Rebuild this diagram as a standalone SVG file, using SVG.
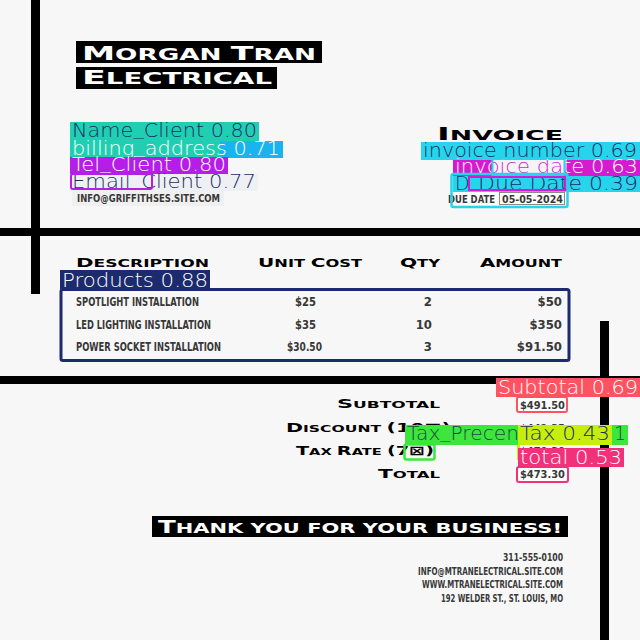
<svg xmlns="http://www.w3.org/2000/svg" width="640" height="640" viewBox="0 0 640 640">
<defs>
<style>
.wide{font-family:"DejaVu Sans","Liberation Sans",sans-serif;font-weight:bold;}
.cond{font-family:"DejaVu Sans Condensed","DejaVu Sans","Liberation Sans",sans-serif;font-weight:bold;fill:#383838;}
.lbl{font-family:"DejaVu Sans","Liberation Sans",sans-serif;font-weight:200;font-size:19px;}
.navy{fill:#1b2d63;}
.white{fill:#ffffff;}
</style>
<clipPath id="dateIn"><rect x="493" y="160" width="71" height="15"/></clipPath>
</defs>
<rect x="0" y="0" width="640" height="640" fill="#f7f7f7"/>

<g id="frame">
<rect x="31" y="0" width="9" height="294" fill="#000"/>
<rect x="0" y="228" width="640" height="8" fill="#000"/>
<rect x="0" y="376" width="640" height="8" fill="#000"/>
<rect x="600" y="321" width="9" height="319" fill="#000"/>
</g>

<g id="company">
<rect x="76" y="41" width="246" height="22" fill="#000"/>
<rect x="76" y="67" width="201" height="22" fill="#000"/>
<text class="wide" fill="#fff" x="82" y="59.5" textLength="234" lengthAdjust="spacingAndGlyphs"><tspan font-size="19">M</tspan><tspan font-size="15">ORGAN </tspan><tspan font-size="19">T</tspan><tspan font-size="15">RAN</tspan></text>
<text class="wide" fill="#fff" x="82" y="83.5" textLength="190" lengthAdjust="spacingAndGlyphs"><tspan font-size="19">E</tspan><tspan font-size="15">LECTRICAL</tspan></text>
</g>

<g id="client">
<rect x="70" y="122" width="189" height="19" fill="#20cfb2"/>
<rect x="70" y="141" width="150" height="16" fill="#20cfb2"/>
<rect x="220" y="141" width="63" height="17" fill="#19b3f0"/>
<text class="lbl navy" x="72" y="137" textLength="185" lengthAdjust="spacingAndGlyphs">Name<tspan dy="-3">_</tspan><tspan dy="3">Client 0.80</tspan></text>
<text class="lbl white" x="72" y="155" textLength="208" lengthAdjust="spacingAndGlyphs">billing<tspan dy="-3">_</tspan><tspan dy="3">address 0.71</tspan></text>
<rect x="70" y="157" width="158" height="17" fill="#b51ee8"/>
<rect x="70" y="174" width="188" height="17" fill="#eef0f3"/>
<text class="lbl white" x="72" y="171" textLength="154" lengthAdjust="spacingAndGlyphs">Tel<tspan dy="-3">_</tspan><tspan dy="3">Client 0.80</tspan></text>
<text class="lbl navy" x="72" y="188" textLength="184" lengthAdjust="spacingAndGlyphs">Email<tspan dy="-3">_</tspan><tspan dy="3">Client 0.77</tspan></text>
<rect x="71" y="174" width="81" height="15" rx="2" fill="none" stroke="#b51ee8" stroke-width="2"/>
<rect x="72" y="191" width="152" height="15" fill="#f0f0f1"/>
<text class="cond" font-size="11" x="77" y="202" textLength="143" lengthAdjust="spacingAndGlyphs">INFO@GRIFFITHSES.SITE.COM</text>
</g>

<g id="invoice">
<text class="wide" fill="#000" x="437" y="140" textLength="126" lengthAdjust="spacingAndGlyphs"><tspan font-size="18">I</tspan><tspan font-size="14">NVOICE</tspan></text>
<rect x="421" y="142" width="219" height="18" fill="#27d4ec"/>
<text class="lbl navy" x="423" y="157" textLength="214" lengthAdjust="spacingAndGlyphs">invoice number 0.69</text>
<rect x="453" y="160" width="187" height="16" fill="#d51bcf"/>
<rect x="493" y="160" width="71" height="15" fill="#f4f4f6"/>
<text class="lbl white" x="455" y="173" textLength="183" lengthAdjust="spacingAndGlyphs">invoice date 0.63</text>
<text class="lbl" fill="#d51bcf" x="455" y="173" textLength="183" lengthAdjust="spacingAndGlyphs" clip-path="url(#dateIn)">invoice date 0.63</text>
<rect x="492.5" y="158" width="72" height="17" fill="none" stroke="#27d4ec" stroke-width="2"/>
<rect x="453" y="176" width="187" height="16" fill="#27d4ec"/>
<text class="lbl navy" x="455" y="190">D</text>
<text class="lbl navy" x="478" y="190" textLength="160" lengthAdjust="spacingAndGlyphs">Due Date 0.39</text>
<rect x="469" y="177" width="96" height="13" fill="none" stroke="#d51bcf" stroke-width="2"/>
<rect x="453" y="192" width="44" height="13" fill="#ffffff"/>
<rect x="499.5" y="192.5" width="65" height="12" fill="#ffffff" stroke="#8a8a8a" stroke-width="1"/>
<text class="cond" font-size="11" x="448" y="203" textLength="47" lengthAdjust="spacingAndGlyphs">DUE DATE</text>
<text class="cond" font-size="11" x="502" y="203" textLength="61" lengthAdjust="spacingAndGlyphs">05-05-2024</text>
<rect x="451.5" y="174" width="116" height="33" rx="2" fill="none" stroke="#27d4ec" stroke-width="2.5"/>
</g>

<g id="table-header">
<text class="wide" fill="#000" x="76" y="267" textLength="133" lengthAdjust="spacingAndGlyphs"><tspan font-size="13">D</tspan><tspan font-size="10.5">ESCRIPTION</tspan></text>
<text class="wide" fill="#000" x="258" y="267" textLength="104" lengthAdjust="spacingAndGlyphs"><tspan font-size="13">U</tspan><tspan font-size="10.5">NIT </tspan><tspan font-size="13">C</tspan><tspan font-size="10.5">OST</tspan></text>
<text class="wide" fill="#000" x="400" y="267" textLength="40" lengthAdjust="spacingAndGlyphs"><tspan font-size="13">Q</tspan><tspan font-size="10.5">TY</tspan></text>
<text class="wide" fill="#000" x="480" y="267" textLength="82" lengthAdjust="spacingAndGlyphs"><tspan font-size="13">A</tspan><tspan font-size="10.5">MOUNT</tspan></text>
</g>

<g id="products">
<rect x="60" y="270" width="150" height="19" fill="#1c2a6e"/>
<text class="lbl white" x="62" y="287" textLength="146" lengthAdjust="spacingAndGlyphs">Products 0.88</text>
<rect x="61" y="289.5" width="508" height="71" rx="2" fill="none" stroke="#1c2a6e" stroke-width="3"/>
<text class="cond" font-size="13" x="76" y="306" textLength="123" lengthAdjust="spacingAndGlyphs">SPOTLIGHT INSTALLATION</text>
<text class="cond" font-size="13" x="295" y="306" textLength="21" lengthAdjust="spacingAndGlyphs">$25</text>
<text class="cond" font-size="13" x="432" y="306" text-anchor="end">2</text>
<text class="cond" font-size="13" x="562" y="306" text-anchor="end">$50</text>
<text class="cond" font-size="13" x="76" y="329" textLength="135" lengthAdjust="spacingAndGlyphs">LED LIGHTING INSTALLATION</text>
<text class="cond" font-size="13" x="295" y="329" textLength="21" lengthAdjust="spacingAndGlyphs">$35</text>
<text class="cond" font-size="13" x="432" y="329" text-anchor="end">10</text>
<text class="cond" font-size="13" x="562" y="329" text-anchor="end">$350</text>
<text class="cond" font-size="13" x="76" y="351" textLength="145" lengthAdjust="spacingAndGlyphs">POWER SOCKET INSTALLATION</text>
<text class="cond" font-size="13" x="287" y="351" textLength="35" lengthAdjust="spacingAndGlyphs">$30.50</text>
<text class="cond" font-size="13" x="432" y="351" text-anchor="end">3</text>
<text class="cond" font-size="13" x="562" y="351" text-anchor="end">$91.50</text>
</g>

<g id="totals">
<text class="wide" fill="#000" x="337" y="408" textLength="103" lengthAdjust="spacingAndGlyphs"><tspan font-size="12.5">S</tspan><tspan font-size="9.5">UBTOTAL</tspan></text>
<text class="wide" fill="#000" x="286" y="432" textLength="165" lengthAdjust="spacingAndGlyphs"><tspan font-size="12.5">D</tspan><tspan font-size="9.5">ISCOUNT </tspan><tspan font-size="12.5">(10⊠)</tspan></text>
<text class="wide" fill="#000" x="296" y="455" textLength="138" lengthAdjust="spacingAndGlyphs"><tspan font-size="12.5">T</tspan><tspan font-size="9.5">AX </tspan><tspan font-size="12.5">R</tspan><tspan font-size="9.5">ATE </tspan><tspan font-size="12.5">(7⊠)</tspan></text>
<text class="wide" fill="#000" x="378" y="478" textLength="62" lengthAdjust="spacingAndGlyphs"><tspan font-size="12.5">T</tspan><tspan font-size="9.5">OTAL</tspan></text>
<text class="cond" font-size="11" x="520" y="432" textLength="45" lengthAdjust="spacingAndGlyphs">$442.35</text>
<text class="cond" font-size="11" x="520" y="455" textLength="45" lengthAdjust="spacingAndGlyphs">$470.30</text>

<rect x="496" y="378" width="144" height="19" fill="#ff5262"/>
<text class="lbl white" x="498" y="394" textLength="140" lengthAdjust="spacingAndGlyphs">Subtotal 0.69</text>
<rect x="517" y="397" width="50" height="15" rx="2" fill="#ffffff" stroke="#ff5262" stroke-width="2"/>
<text class="cond" font-size="11" x="520" y="409" textLength="45" lengthAdjust="spacingAndGlyphs">$491.50</text>

<rect x="405" y="425" width="223" height="20" fill="#3de63d"/>
<text class="lbl" fill="#174b3a" x="407" y="440" textLength="120" lengthAdjust="spacingAndGlyphs">Tax<tspan dy="-3">_</tspan><tspan dy="3">Precent</tspan></text>
<text class="lbl" fill="#174b3a" x="614" y="440">1</text>
<rect x="518" y="425" width="94" height="20" fill="#c6ee0a"/>
<text class="lbl navy" x="520" y="440" textLength="90" lengthAdjust="spacingAndGlyphs">Tax 0.43</text>
<rect x="517" y="445" width="3" height="15" fill="#c6ee0a"/>
<rect x="404.5" y="444.5" width="30" height="15" rx="2" fill="none" stroke="#3de63d" stroke-width="2.5"/>

<rect x="518" y="448" width="106" height="19" fill="#f2317b"/>
<text class="lbl white" x="520" y="464" textLength="102" lengthAdjust="spacingAndGlyphs">total 0.53</text>
<rect x="517" y="467" width="51" height="15" rx="2" fill="#ffffff" stroke="#f2317b" stroke-width="2"/>
<text class="cond" font-size="11" x="520" y="478" textLength="45" lengthAdjust="spacingAndGlyphs">$473.30</text>
</g>

<g id="thanks">
<rect x="152" y="516" width="416" height="21" fill="#000"/>
<text class="wide" fill="#fff" x="158" y="533" textLength="404" lengthAdjust="spacingAndGlyphs"><tspan font-size="18">T</tspan><tspan font-size="14.5">HANK YOU FOR YOUR BUSINESS!</tspan></text>
</g>

<g id="contact">
<text class="cond" font-size="11" x="563" y="561" text-anchor="end" textLength="60" lengthAdjust="spacingAndGlyphs">311-555-0100</text>
<text class="cond" font-size="11" x="563" y="575" text-anchor="end" textLength="145" lengthAdjust="spacingAndGlyphs">INFO@MTRANELECTRICAL.SITE.COM</text>
<text class="cond" font-size="11" x="563" y="588" text-anchor="end" textLength="141" lengthAdjust="spacingAndGlyphs">WWW.MTRANELECTRICAL.SITE.COM</text>
<text class="cond" font-size="11" x="563" y="602" text-anchor="end" textLength="122" lengthAdjust="spacingAndGlyphs">192 WELDER ST., ST. LOUIS, MO</text>
</g>
</svg>
